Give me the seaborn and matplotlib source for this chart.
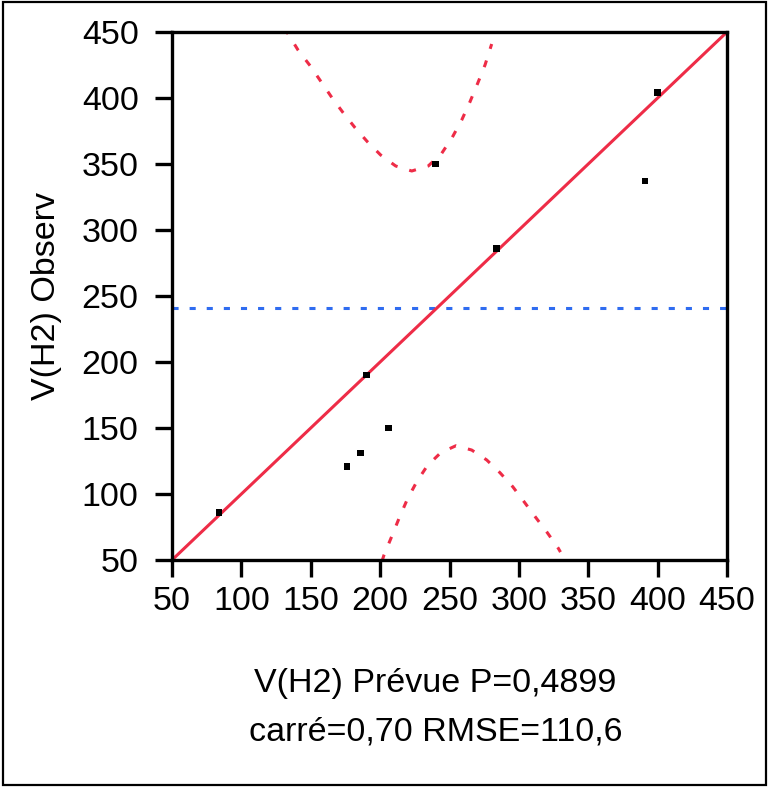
import matplotlib
matplotlib.use("Agg")
import matplotlib.pyplot as plt
import seaborn as sns
from matplotlib.patches import Rectangle

# points
pred = [84, 176, 186, 206, 190, 240, 284, 391, 400]
obs = [86, 121, 131, 150, 190, 350, 286, 337, 404]

# fit line and mean of response
fit_x = [50, 450]
fit_y = [50, 450]
mean_obs = 240.6

# confidence curves (dashed)
upper_x = [131.0, 133.4, 140.8, 149.5, 157.4, 165.3, 173.3, 181.9, 190.8, 200.4,
           211.2, 222.8, 234.7, 244.4, 252.0, 258.8, 264.8, 270.3, 275.6, 280.4]
upper_y = [453.0, 449.0, 436.4, 424.5, 412.4, 400.2, 388.9, 377.5, 366.9, 356.8,
           348.5, 344.7, 348.5, 358.1, 370.2, 383.3, 397.2, 411.1, 425.0, 440.9]
lower_x = [201.3, 202.8, 208.3, 213.8, 219.6, 226.4, 234.0, 243.7, 254.7, 266.0,
           276.8, 286.4, 295.6, 303.7, 312.1, 320.5, 328.4, 330.0]
lower_y = [49.0, 53.8, 67.7, 82.0, 96.0, 109.3, 121.4, 131.3, 136.6, 133.3,
           125.8, 116.1, 105.5, 94.2, 82.3, 70.7, 58.9, 56.0]

ticks = [50, 100, 150, 200, 250, 300, 350, 400, 450]

sns.set_theme(style="ticks")
plt.rcParams["font.family"] = ["Liberation Sans Narrow", "Liberation Sans", "DejaVu Sans"]
plt.rcParams.update({"text.color": "black", "axes.labelcolor": "black",
                     "xtick.color": "black", "ytick.color": "black"})

RED = "#ee2c47"
BLUE = "#2f6cf0"
FS = 24.5

fig = plt.figure(figsize=(7.68, 7.87), dpi=100)
ax = fig.add_axes([172 / 768, 1 - 560 / 787, 555 / 768, 528 / 787])

ax.axhline(mean_obs, color=BLUE, lw=2.2, ls=(0, (2.0, 3.6)))
sns.lineplot(x=fit_x, y=fit_y, ax=ax, color=RED, lw=2.2)
sns.lineplot(x=upper_x, y=upper_y, ax=ax, color=RED, lw=2.2, sort=False,
             estimator=None, ls=(0, (2.3, 4.0)))
sns.lineplot(x=lower_x, y=lower_y, ax=ax, color=RED, lw=2.2, sort=False,
             estimator=None, ls=(0, (2.3, 4.0)))
sns.scatterplot(x=pred, y=obs, ax=ax, marker="s", s=22, color="black",
                edgecolor="none", zorder=5)

ax.set_xlim(50, 450)
ax.set_ylim(50, 450)
ax.set_xticks(ticks)
ax.set_yticks(ticks)
ax.tick_params(axis="both", length=12, width=2.4, labelsize=FS, color="black",
               labelcolor="black")
ax.tick_params(axis="x", pad=7)
ax.tick_params(axis="y", pad=12)
for sp in ax.spines.values():
    sp.set_visible(True)
    sp.set_linewidth(2.4)
    sp.set_color("black")

ax.set_ylabel("V(H2) Observ", fontsize=FS, labelpad=14)
ax.set_xlabel("V(H2) Prévue P=0,4899\ncarré=0,70 RMSE=110,6", fontsize=FS,
              linespacing=1.7)
ax.xaxis.set_label_coords(0.475, -0.205)

fig.patches.append(Rectangle((3 / 768, 2 / 787), 763 / 768, 783 / 787,
                             transform=fig.transFigure, fill=False,
                             edgecolor="black", lw=1.6))

fig.savefig("out.png", dpi=100)
